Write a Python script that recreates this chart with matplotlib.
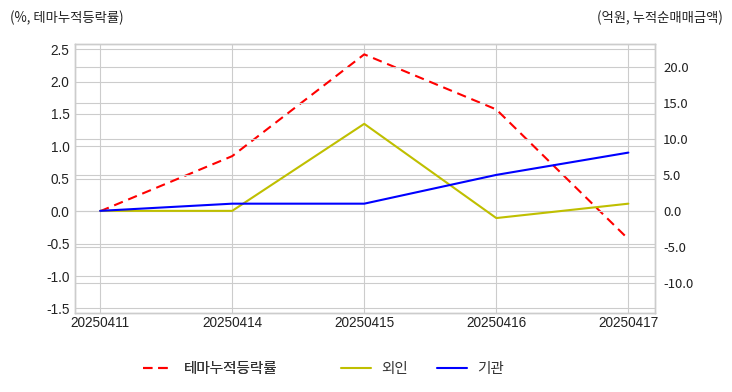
import matplotlib
matplotlib.use('Agg')
import matplotlib.pyplot as plt
import matplotlib.ticker as mticker
import numpy as np

plt.style.use('seaborn-v0_8-whitegrid')
plt.rcParams['font.family'] = ['Liberation Sans', 'Noto Sans CJK KR', 'DejaVu Sans']
plt.rcParams['axes.unicode_minus'] = False

dates = ['20250411', '20250414', '20250415', '20250416', '20250417']
theme_pct = [0.0, 0.85, 2.42, 1.57, -0.43]
foreign = [0.0, 0.0, 12.1, -1.0, 1.0]
institution = [0.0, 1.0, 1.0, 5.0, 8.1]

x = np.arange(len(dates))

fig = plt.figure(figsize=(7.32, 3.92), dpi=100)
ax1 = fig.add_axes([0.1025, 0.2015, 0.792, 0.6863])
ax2 = ax1.twinx()

l1, = ax1.plot(x, theme_pct, color='red', linestyle=(0, (4.5, 2.8)), linewidth=1.5, label='테마누적등락률')
l2, = ax2.plot(x, foreign, color='#bfbf00', linewidth=1.5, label='외인')
l3, = ax2.plot(x, institution, color='blue', linewidth=1.5, label='기관')

ax1.set_xlim(-0.19, 4.2)
ax1.set_ylim(-1.57, 2.58)
ax2.set_ylim(-14.2, 23.2)
ax1.set_xticks(x)
ax1.set_xticklabels(dates)
ax1.yaxis.set_major_locator(mticker.MultipleLocator(0.5))
ax1.yaxis.set_major_formatter(mticker.FormatStrFormatter('%.1f'))
ax2.yaxis.set_major_locator(mticker.FixedLocator([-10, -5, 0, 5, 10, 15, 20]))
ax2.yaxis.set_major_formatter(mticker.FormatStrFormatter('%.1f'))

for ax in (ax1, ax2):
    ax.tick_params(labelsize=9.8, colors='#222222', length=0, pad=4)
    ax.grid(True, color='#cccccc', linewidth=0.8)
    for s in ax.spines.values():
        s.set_visible(True)
        s.set_color('#cccccc')
        s.set_linewidth(1.0)
ax2.grid(True, axis='y', color='#cccccc', linewidth=0.8)
ax2.tick_params(axis='y', pad=6, labelsize=9.5)
for lab in ax2.get_yticklabels():
    lab.set_family(['Noto Sans CJK KR', 'DejaVu Sans'])
ax1.tick_params(axis='x', pad=2)

kr = ['Noto Sans CJK KR', 'DejaVu Sans']
fig.text(0.013, 0.955, '(%, 테마누적등락률)', fontsize=9.6, color='#222222', va='center', family=kr)
fig.text(0.987, 0.955, '(억원, 누적순매매금액)', fontsize=9.6, color='#222222', va='center', ha='right', family=kr)

leg_font = {'family': kr, 'size': 10.5, 'weight': 'normal'}
leg1 = fig.legend(handles=[l1], loc='center left', bbox_to_anchor=(0.178, 0.058),
                  frameon=False, prop=leg_font, handlelength=2.05, handletextpad=0.7)
fig.add_artist(leg1)
leg2 = fig.legend(handles=[l2, l3], loc='center left', bbox_to_anchor=(0.448, 0.058), ncol=2,
                  frameon=False, prop=leg_font, handlelength=2.05, handletextpad=0.7, columnspacing=2.0)
for leg in (leg1, leg2):
    for t in leg.get_texts():
        t.set_color('#333333')

fig.savefig('out.png', dpi=100)
